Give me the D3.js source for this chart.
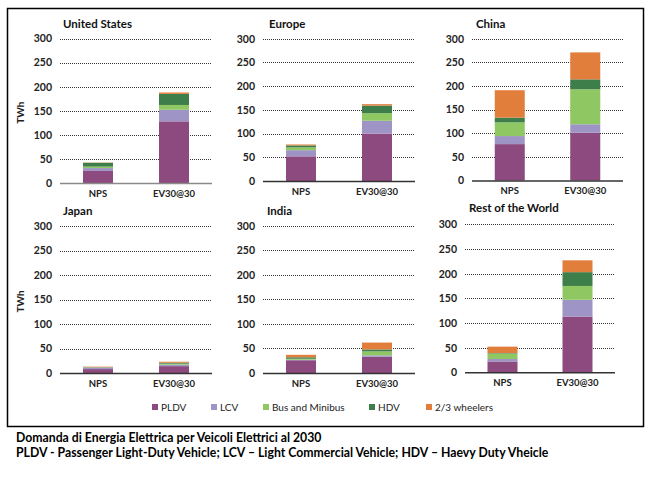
<!DOCTYPE html>
<html><head><meta charset="utf-8">
<script src="https://cdn.jsdelivr.net/npm/d3@7/dist/d3.min.js"></script>
<style>
body{margin:0;background:#fff;}
text{font-family:Lato,"Open Sans",sans-serif;}
</style></head>
<body><svg id="c" width="650" height="477"></svg>
<script>
// ---- data ----
const regions = ["United States","Europe","China","Japan","India","Rest of the World"];
const scenarios = ["NPS","EV30@30"];
const seriesNames = ["PLDV","LCV","Bus and Minibus","HDV","2/3 wheelers"];
// values ordered: [US NPS, US EV, EU NPS, EU EV, CN NPS, CN EV, JP NPS, JP EV, IN NPS, IN EV, RoW NPS, RoW EV]
const pldv   = [25,128, 52,100, 77,101, 8,14, 26,33, 22,113];
const lcv    = [6,24,   13,27,  17,18,  3,3,  1,3,   5,34];
const bus    = [3,10,   6,16,   29,74,  0.5,2, 2,8,  11,28];
const hdv    = [8,23,   4,16,   10,21,  0.5,2, 3,4,  1,28];
const wheels = [0.5,3,  2,3,    58,57,  1,2,  5,14,  13,24];
const yTicks = [0,50,100,150,200,250,300];
const captionLines = ["Domanda di Energia Elettrica per Veicoli Elettrici al 2030",
  "PLDV - Passenger Light-Duty Vehicle; LCV \u2013 Light Commercial Vehicle; HDV \u2013 Haevy Duty Vheicle"];

// ---- styles / layout ----
const colors = ["#8C4A7E","#9E94C6","#8FC862","#3E7E4B","#E27E3C"];
const panels = [
  {x0:60,x1:212,yTop:38.5,yBot:183,base:"#8a8a8a",tx:63,ty:28,twh:true},
  {x0:263,x1:415,yTop:38.7,yBot:181,base:"#333",tx:269,ty:28},
  {x0:472,x1:623,yTop:38.7,yBot:180.5,base:"#333",tx:476,ty:28},
  {x0:60,x1:212,yTop:226,yBot:373,base:"#333",tx:63,ty:215,twh:true},
  {x0:263,x1:415,yTop:225.7,yBot:373,base:"#333",tx:267,ty:215},
  {x0:465,x1:615,yTop:224.3,yBot:372.3,base:"#333",tx:469,ty:212}
];
const seriesVals = [pldv,lcv,bus,hdv,wheels];

const svg = d3.select("#c");
svg.append("rect").attr("x",7.5).attr("y",8.5).attr("width",636).attr("height",418)
  .attr("fill","none").attr("stroke","#000").attr("stroke-width",1.5);

regions.forEach((r,ri)=>{
  const p = panels[ri];
  const g = svg.append("g");
  const y = d3.scaleLinear().domain([0,300]).range([p.yBot,p.yTop]);
  const x = d3.scaleBand().domain(scenarios).range([p.x0,p.x1]).padding(0);
  // grid
  g.selectAll("line.grid").data(yTicks.filter(t=>t>0)).join("line")
    .attr("x1",p.x0).attr("x2",p.x1).attr("y1",d=>Math.round(y(d))+0.5).attr("y2",d=>Math.round(y(d))+0.5)
    .attr("stroke","#000").attr("stroke-width",0.8).attr("stroke-dasharray","1,1");
  // y axis labels
  const ax = d3.axisLeft(y).tickValues(yTicks).tickSize(0).tickPadding(8);
  const ag = g.append("g").attr("transform",`translate(${p.x0},0)`).call(ax);
  ag.select(".domain").remove();
  ag.selectAll("text").attr("font-size",10.5).attr("font-weight","bold").attr("fill","#222")
    .attr("font-family","Lato,sans-serif");
  // stacked bars
  const rows = scenarios.map((s,si)=>{
    const o = {scenario:s};
    seriesNames.forEach((n,k)=>o[n]=seriesVals[k][ri*2+si]);
    return o;
  });
  const stack = d3.stack().keys(seriesNames)(rows);
  const bw = 30;
  stack.forEach((layer,k)=>{
    g.selectAll(null).data(layer).join("rect")
      .attr("x",d=>x(d.data.scenario)+(x.bandwidth()-bw)/2)
      .attr("width",bw)
      .attr("y",d=>y(d[1]))
      .attr("height",d=>Math.max(0,y(d[0])-y(d[1])))
      .attr("fill",colors[k]);
  });
  // baseline
  g.append("line").attr("x1",p.x0).attr("x2",p.x1).attr("y1",p.yBot+0.5).attr("y2",p.yBot+0.5)
    .attr("stroke",p.base).attr("stroke-width",1.5);
  // x labels
  const xa = d3.axisBottom(x).tickSize(0).tickPadding(7);
  const xg = g.append("g").attr("transform",`translate(0,${p.yBot})`).call(xa);
  xg.select(".domain").remove();
  xg.selectAll("text").attr("font-size",9.5).attr("font-weight","bold").attr("fill","#222")
    .attr("font-family","Lato,sans-serif");
  // title
  g.append("text").attr("x",p.tx).attr("y",p.ty).text(r)
    .attr("font-size",11.5).attr("font-weight","bold").attr("fill","#111");
  if(p.twh){
    const cy = (p.yTop+p.yBot)/2 + 2;
    g.append("text").attr("transform",`translate(24,${cy}) rotate(-90)`)
      .attr("text-anchor","middle").text("TWh")
      .attr("font-size",10).attr("font-weight","bold").attr("fill","#222");
  }
});

// legend
const legX = [152,211,263,369,426];
const lg = svg.append("g");
seriesNames.forEach((n,k)=>{
  lg.append("rect").attr("x",legX[k]).attr("y",404).attr("width",6).attr("height",6).attr("fill",colors[k]);
  lg.append("text").attr("x",legX[k]+9).attr("y",410.5).text(n)
    .attr("font-size",10).attr("fill","#222");
});

// caption
captionLines.forEach((t,i)=>{
  svg.append("text").attr("x",16).attr("y",442+i*14.5).text(t)
    .attr("font-size",12.25).attr("font-weight","bold").attr("fill","#000");
});
</script></body></html>
